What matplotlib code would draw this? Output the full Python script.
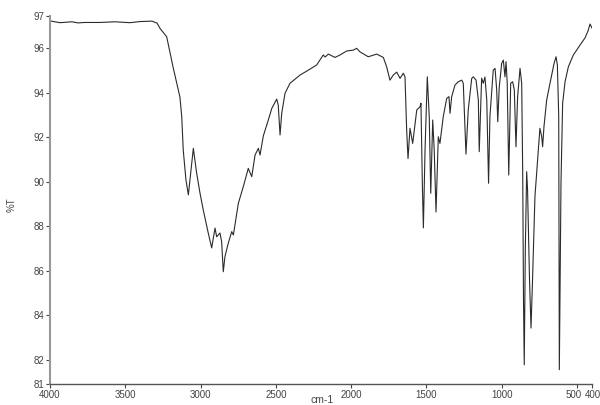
import numpy as np
import matplotlib.pyplot as plt
import matplotlib.transforms as mtransforms

plt.rcParams['font.family'] = ['Liberation Sans', 'DejaVu Sans']

# IR spectrum (wavenumber in cm-1, transmittance in %T)
wavenumber = [4000, 3934, 3854, 3814, 3768, 3668, 3568, 3469, 3402, 3323,
              3289, 3269, 3225, 3183, 3137, 3125, 3115, 3097, 3081, 3048,
              3026, 3004, 2982, 2949, 2926, 2904, 2893, 2871, 2860, 2849,
              2838, 2816, 2793, 2782, 2749, 2716, 2683, 2660, 2638, 2616,
              2605, 2583, 2550, 2527, 2494, 2484, 2472, 2461, 2439, 2406,
              2339, 2284, 2229, 2185, 2173, 2151, 2107, 2074, 2029, 1985,
              1963, 1941, 1886, 1830, 1786, 1764, 1742, 1720, 1697, 1675,
              1653, 1642, 1631, 1622, 1609, 1591, 1564, 1542, 1536, 1527,
              1520, 1509, 1494, 1481, 1471, 1458, 1448, 1436, 1421, 1410,
              1388, 1365, 1350, 1343, 1332, 1310, 1288, 1265, 1255, 1237,
              1222, 1199, 1188, 1170, 1155, 1149, 1133, 1122, 1111, 1099,
              1087, 1078, 1056, 1044, 1033, 1026, 1016, 1000, 989, 978,
              971, 963, 953, 940, 927, 916, 905, 894, 878, 867,
              860, 855, 850, 843, 834, 828, 815, 805, 795, 779,
              757, 746, 734, 728, 719, 701, 679, 652, 639, 630,
              621, 617, 606, 595, 579, 557, 524, 502, 480, 447,
              427, 413, 400]
transmittance = [97.22, 97.14, 97.18, 97.13, 97.15, 97.15, 97.18, 97.14, 97.19, 97.21,
                 97.12, 96.88, 96.51, 95.16, 93.80, 92.92, 91.42, 90.08, 89.41, 91.50,
                 90.39, 89.50, 88.73, 87.70, 87.03, 87.92, 87.53, 87.70, 87.31, 85.96,
                 86.64, 87.24, 87.76, 87.61, 89.03, 89.78, 90.60, 90.23, 91.20, 91.50,
                 91.20, 92.06, 92.77, 93.29, 93.71, 93.44, 92.10, 93.07, 93.97, 94.42,
                 94.79, 95.01, 95.24, 95.69, 95.60, 95.73, 95.58, 95.69, 95.87, 95.91,
                 95.99, 95.83, 95.61, 95.73, 95.58, 95.16, 94.56, 94.79, 94.92, 94.64,
                 94.87, 94.70, 92.32, 91.04, 92.40, 91.72, 93.22, 93.37, 93.52, 89.93,
                 87.93, 91.42, 94.71, 92.92, 89.48, 92.77, 91.42, 88.64, 92.02, 91.72,
                 92.92, 93.74, 93.82, 93.07, 93.82, 94.34, 94.49, 94.56, 94.42, 91.24,
                 93.22, 94.64, 94.71, 94.56, 93.67, 91.35, 94.65, 94.42, 94.70, 93.67,
                 89.93, 92.92, 95.01, 95.09, 94.12, 92.69, 94.26, 95.31, 95.46, 94.71,
                 95.39, 94.42, 90.30, 94.42, 94.49, 94.12, 91.57, 93.82, 95.09, 94.42,
                 90.23, 84.70, 81.78, 86.94, 90.45, 89.63, 85.59, 83.43, 85.59, 89.33,
                 91.42, 92.40, 92.02, 91.57, 92.47, 93.67, 94.42, 95.31, 95.61, 95.24,
                 92.92, 81.56, 89.93, 93.52, 94.49, 95.16, 95.69, 95.91, 96.13, 96.45,
                 96.76, 97.08, 96.90]

x_ticks = [4000, 3500, 3000, 2500, 2000, 1500, 1000, 500, 400]
y_min, y_max = 80.92, 97.44
y_ticks = [y_min, 82, 84, 86, 88, 90, 92, 94, 96, y_max]
y_labels = ['81', '82', '84', '86', '88', '90', '92', '94', '96', '97']

fig = plt.figure(figsize=(6, 4.05), dpi=100)
ax = fig.add_axes([50 / 600, 1 - 384 / 405, 542 / 600, 368 / 405])

ax.plot(wavenumber, transmittance, color='#2b2b2b', linewidth=0.8)

ax.set_xlim(4000, 400)
ax.set_ylim(y_min, y_max)
ax.set_xticks(x_ticks)
ax.set_xticklabels([str(t) for t in x_ticks])
ax.set_yticks(y_ticks)
ax.set_yticklabels(y_labels)

for side in ['top', 'right']:
    ax.spines[side].set_visible(False)
ax.spines['left'].set_color('#999999')
ax.spines['left'].set_linewidth(1.5)
ax.spines['bottom'].set_color('#555555')
ax.spines['bottom'].set_linewidth(1.0)
ax.tick_params(axis='both', labelsize=7, colors='#444444', length=3, width=0.8, pad=1)

# 500 and 400 sit close together, nudge them apart a little
labels = ax.get_xticklabels()
labels[-2].set_transform(labels[-2].get_transform() +
                         mtransforms.ScaledTranslation(-3 / 100, 0, fig.dpi_scale_trans))
labels[-1].set_transform(labels[-1].get_transform() +
                         mtransforms.ScaledTranslation(1 / 100, 0, fig.dpi_scale_trans))

fig.text(12 / 600, 1 - 205 / 405, '%T', rotation=90, fontsize=7, color='#444444',
         ha='center', va='center')
fig.text(322 / 600, 1 - 400 / 405, 'cm-1', fontsize=7.5, color='#444444',
         ha='center', va='center')

fig.savefig('out.png', dpi=100)
